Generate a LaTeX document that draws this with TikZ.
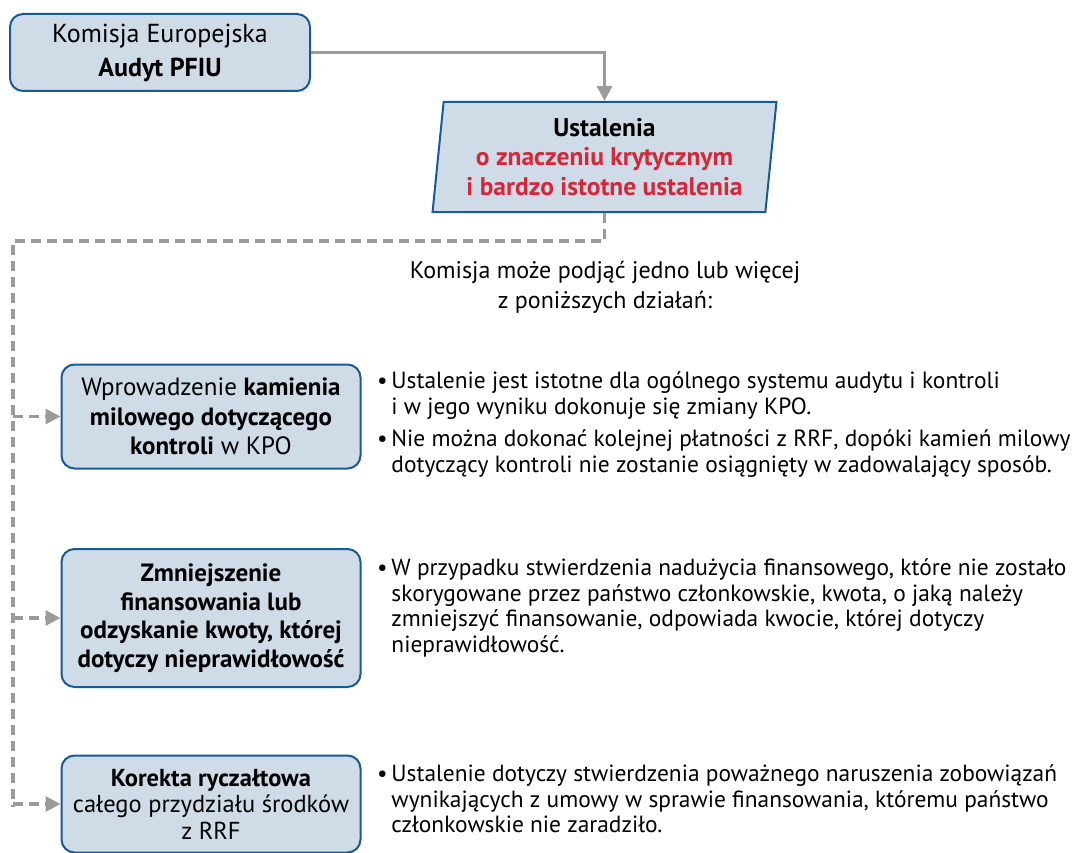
\documentclass[tikz,border=0pt]{standalone}
\usepackage{fontspec}
\setmainfont{PT Sans}
\usetikzlibrary{arrows.meta,shapes.geometric}
\definecolor{boxfill}{HTML}{CFDBE6}
\definecolor{boxline}{HTML}{1A5A94}
\definecolor{critred}{HTML}{D3273A}
\definecolor{arrgray}{HTML}{9B9B9B}
\begin{document}
\begin{tikzpicture}[x=1pt,y=-1pt]
	\useasboundingbox (0,0) rectangle (1078,853);
	\begin{scope}[line width=2pt]
		\tikzstyle{box}=[draw=boxline,fill=boxfill,rounded corners=13pt,align=center,minimum width=299pt,inner sep=0pt,font=\fontsize{25}{28.5}\selectfont];
		\tikzstyle{bullets}=[anchor=north west,inner sep=0pt,align=left,font=\fontsize{23.4}{25.5}\selectfont];
		\tikzstyle{flow}=[draw=arrgray,line width=3.2pt,-{Triangle[length=15pt,width=15pt]}];
		\tikzstyle{dflow}=[flow,dash pattern=on 10pt off 6pt];
		\path (160,52.5) node [box,minimum width=300pt,minimum height=77pt,font=\fontsize{26}{34}\selectfont] (kom) {Komisja Europejska\\\textbf{Audyt PFIU}};
		\path (604.5,157) node [draw=boxline,fill=boxfill,shape=trapezium,trapezium left angle=83,trapezium right angle=97,trapezium stretches=true,minimum width=344pt,minimum height=110pt,inner sep=0pt,align=center,font=\fontsize{25.5}{29.5}\selectfont\bfseries] (find) {Ustalenia\\\textcolor{critred}{o znaczeniu krytycznym}\\\textcolor{critred}{i bardzo istotne ustalenia}};
		\path (605,287) node [align=center,font=\fontsize{24}{30}\selectfont] (may) {Komisja może podjąć jedno lub więcej\\z poniższych działań:};
		\path (211,416.5) node [box,minimum height=104pt,font=\fontsize{25}{29.5}\selectfont] (mil) {Wprowadzenie \textbf{kamienia}\\\textbf{milowego dotyczącego}\\\textbf{kontroli} w KPO};
		\path (211,618) node [box,minimum height=138pt] (red) {\textbf{Zmniejszenie}\\\textbf{finansowania lub}\\\textbf{odzyskanie kwoty, której}\\\textbf{dotyczy nieprawidłowość}};
		\path (211,804) node [box,minimum height=97pt,font=\fontsize{24.5}{26.5}\selectfont] (flat) {\textbf{Korekta ryczałtowa}\\całego przydziału środków\\z RRF};
		\path (376,370) node [bullets] (milnote) {\begin{tabular}{@{}l@{\,}l@{}}
			•&Ustalenie jest istotne dla ogólnego systemu audytu i kontroli\\
			&i w jego wyniku dokonuje się zmiany KPO.\\[7pt]
			•&Nie można dokonać kolejnej płatności z RRF, dopóki kamień milowy\\
			&dotyczący kontroli nie zostanie osiągnięty w zadowalający sposób.
		\end{tabular}};
		\path (376,557) node [bullets] (rednote) {\begin{tabular}{@{}l@{\,}l@{}}
			•&W przypadku stwierdzenia nadużycia finansowego, które nie zostało\\
			&skorygowane przez państwo członkowskie, kwota, o jaką należy\\
			&zmniejszyć finansowanie, odpowiada kwocie, której dotyczy\\
			&nieprawidłowość.
		\end{tabular}};
		\path (376,763) node [bullets] (flatnote) {\begin{tabular}{@{}l@{\,}l@{}}
			•&Ustalenie dotyczy stwierdzenia poważnego naruszenia zobowiązań\\
			&wynikających z umowy w sprawie finansowania, któremu państwo\\
			&członkowskie nie zaradziło.
		\end{tabular}};
		\coordinate (turn) at (13,241);
		\coordinate (railend) at (13,807);
		\draw[flow] (kom.east) -| (find.north);
		\draw[draw=arrgray,line width=3.2pt,dash pattern=on 10pt off 6pt] (find.south) |- (turn) -- (railend);
		\draw[dflow] (mil.west -| turn) -- (mil.west);
		\draw[dflow] (red.west -| turn) -- (red.west);
		\draw[dflow] (flat.west -| turn) -- (flat.west);
	\end{scope}
\end{tikzpicture}
\end{document}
